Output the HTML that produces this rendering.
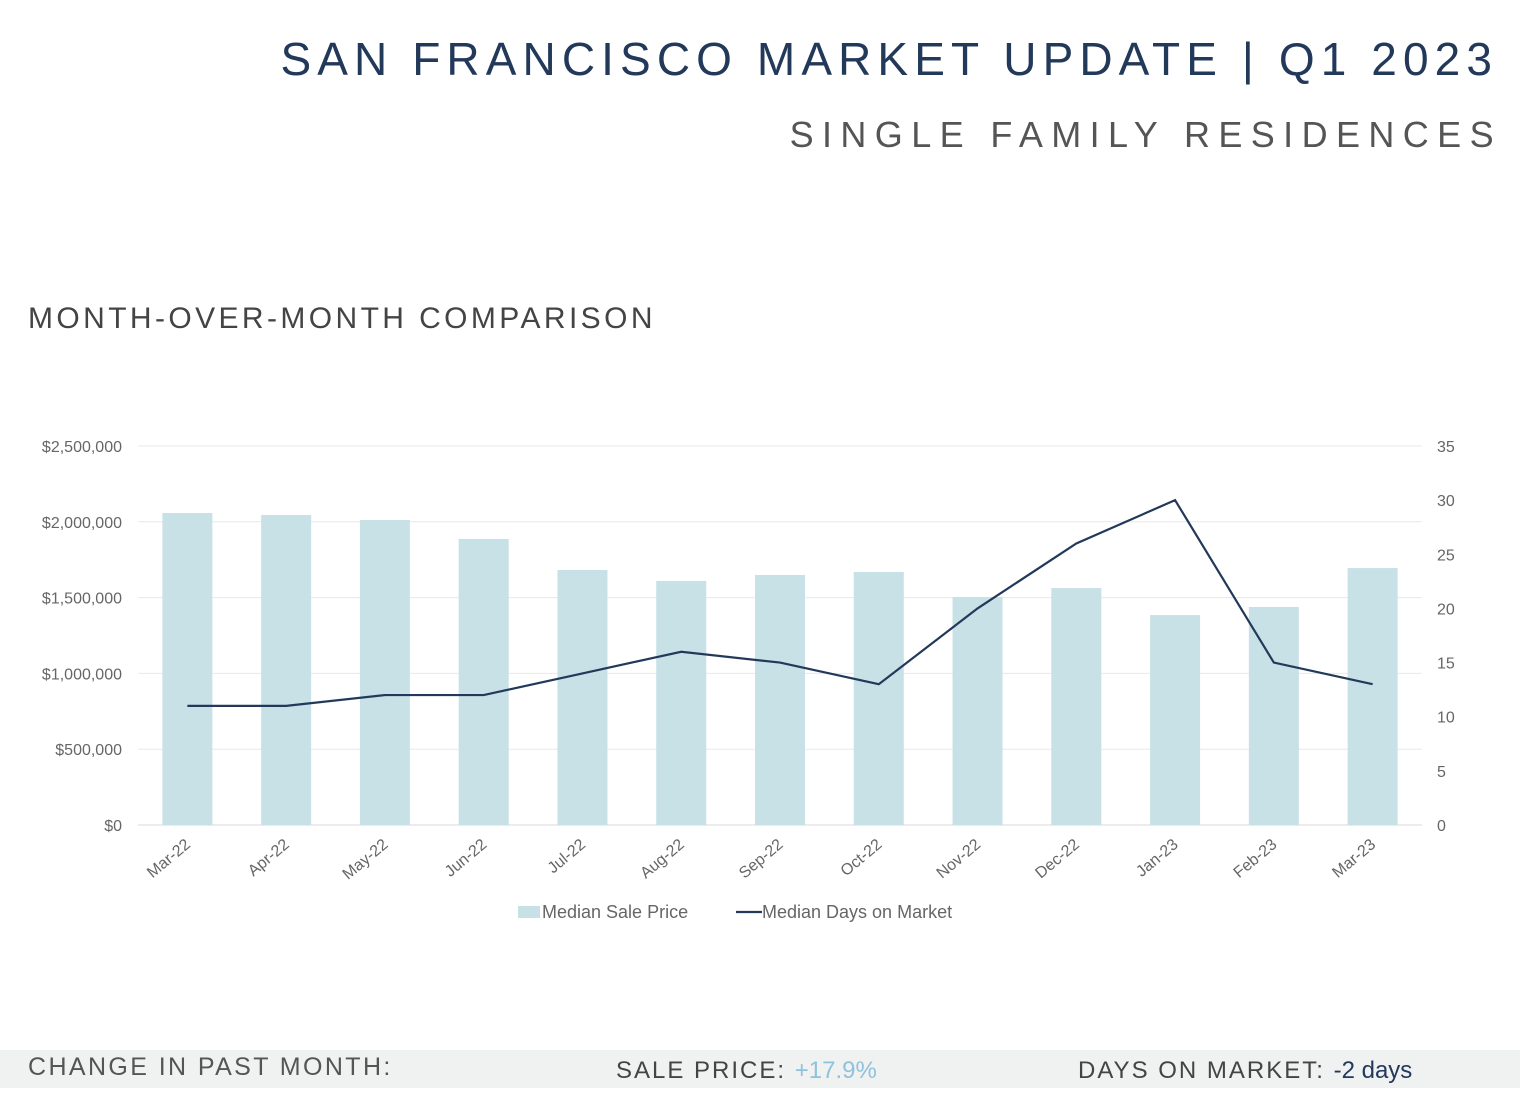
<!DOCTYPE html>
<html><head><meta charset="utf-8"><style>
body{margin:0;width:1520px;height:1112px;background:#fff;font-family:"Liberation Sans",sans-serif;position:relative;overflow:hidden}
.t{position:absolute;white-space:nowrap}
</style></head><body>
<div class="t" style="right:22px;top:32px;font-size:46px;letter-spacing:6.1px;color:#22395a">SAN FRANCISCO MARKET UPDATE | Q1 2023</div>
<div class="t" style="right:18px;top:114px;font-size:36px;letter-spacing:8.4px;color:#555">SINGLE FAMILY RESIDENCES</div>
<div class="t" style="left:28px;top:302px;font-size:30px;letter-spacing:3.4px;color:#444">MONTH-OVER-MONTH COMPARISON</div>
<svg id="chart" width="1520" height="960" style="position:absolute;left:0;top:0"></svg>
<div style="position:absolute;left:0;top:1050px;width:1520px;height:38px;background:#f0f1f1"></div>
<div class="t" style="left:28px;top:1053px;font-size:25px;letter-spacing:2.4px;color:#555">CHANGE IN PAST MONTH:</div>
<div class="t" style="left:616px;top:1057px;font-size:24px;letter-spacing:2px;color:#444">SALE PRICE: <span style="color:#8fc2dc;letter-spacing:0">+17.9%</span></div>
<div class="t" style="left:1078px;top:1057px;font-size:24px;letter-spacing:2px;color:#444">DAYS ON MARKET: <span style="color:#22395a;letter-spacing:0">-2 days</span></div>
<script>
const categories=["Mar-22","Apr-22","May-22","Jun-22","Jul-22","Aug-22","Sep-22","Oct-22","Nov-22","Dec-22","Jan-23","Feb-23","Mar-23"];
const prices=[2058000,2045000,2012000,1887000,1682000,1610000,1649000,1669000,1504000,1563000,1385000,1438000,1695000];
const days=[11,11,12,12,14,16,15,13,20,26,30,15,13];
const leftTicks=[0,500000,1000000,1500000,2000000,2500000];
const rightTicks=[0,5,10,15,20,25,30,35];
const NS="http://www.w3.org/2000/svg";
const svg=document.getElementById('chart');
const x0=138,x1=1422,yB=825,yT=446;
const bw=(x1-x0)/categories.length;
const xc=i=>x0+bw*(i+0.5);
const yL=v=>yB-(v/2500000)*(yB-yT);
const yR=v=>yB-(v/35)*(yB-yT);
function mk(t,a){const e=document.createElementNS(NS,t);for(const k in a)e.setAttribute(k,a[k]);svg.appendChild(e);return e;}
const fmt=v=>"$"+v.toLocaleString("en-US");
leftTicks.forEach(v=>{
 const g=mk('line',{x1:x0,x2:x1,y1:yL(v),y2:yL(v),stroke:v===0?'#d9d9d9':'#e8e8e8','stroke-width':1});
 
 
 const t=mk('text',{x:122,y:yL(v)+6,'text-anchor':'end','font-size':16,fill:'#666','font-family':'Liberation Sans'});
 t.textContent=fmt(v);
 
 
});
rightTicks.forEach(v=>{
 const t=mk('text',{x:1437,y:yR(v)+6,'font-size':16,fill:'#666','font-family':'Liberation Sans'});
 t.textContent=v;
 
 
});
prices.forEach((v,i)=>{
 const r=mk('rect',{x:xc(i)-25,y:yL(v),width:50,height:yB-yL(v),fill:'#c8e1e7'});
 
 
});
const pl=mk('polyline',{points:days.map((d,i)=>xc(i)+','+yR(d)).join(' '),fill:'none',stroke:'#22395a','stroke-width':2.2});


categories.forEach((c,i)=>{
 const t=mk('text',{x:xc(i)+4,y:846,'text-anchor':'end','font-size':16,fill:'#666','font-family':'Liberation Sans',transform:`rotate(-40 ${xc(i)+4} 846)`});
 t.textContent=c;
 
 
});
const lr=mk('rect',{x:518,y:906,width:22,height:12,fill:'#c8e1e7'});


const lt=mk('text',{x:542,y:918,'font-size':18,fill:'#666','font-family':'Liberation Sans'});lt.textContent='Median Sale Price';


const ll=mk('line',{x1:736,x2:762,y1:912,y2:912,stroke:'#22395a','stroke-width':2.2});


const lt2=mk('text',{x:762,y:918,'font-size':18,fill:'#666','font-family':'Liberation Sans'});lt2.textContent='Median Days on Market';


</script>
</body></html>
